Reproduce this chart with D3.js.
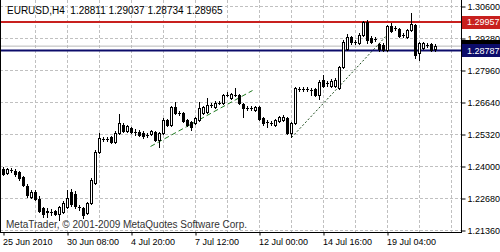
<!DOCTYPE html>
<html><head><meta charset="utf-8">
<script src="https://cdn.jsdelivr.net/npm/d3@7"></script>
<style>
html,body{margin:0;padding:0;background:#fff;overflow:hidden}
svg{display:block}
text{font-family:"Liberation Sans",Arial,sans-serif;font-size:9px}
</style></head><body>
<svg id="chart" width="500" height="252"></svg>
<script>
const symbolTitle = "EURUSD,H4  1.28811 1.29037 1.28734 1.28965";
const copyright = "MetaTrader, \u00A9 2001-2009 MetaQuotes Software Corp.";
const timeTickIndex = [0,16,32,48,64,80,96];
const timeTickLabels = ["25 Jun 2010","30 Jun 08:00","4 Jul 20:00","7 Jul 12:00","12 Jul 00:00","14 Jul 16:00","19 Jul 04:00"];
const priceTicks = [1.30600,1.29280,1.27960,1.26640,1.25320,1.24000,1.22680,1.21360];

const open = [1.23876,1.23711,1.23835,1.23794,1.23753,1.23546,1.23175,1.22721,1.22928,1.22639,
1.22268,1.22144,1.22103,1.22144,1.22020,1.22103,1.22309,1.22928,1.22845,1.22309,
1.22268,1.22061,1.22474,1.23299,1.24578,1.25114,1.25114,1.25196,1.24990,1.25361,
1.25691,1.25444,1.25568,1.25403,1.25403,1.25361,1.25279,1.25320,1.25403,1.25073,
1.25361,1.25898,1.25691,1.26434,1.26186,1.26186,1.25898,1.25815,1.25774,1.25898,
1.26186,1.26228,1.26516,1.26434,1.26599,1.26599,1.26929,1.26805,1.26929,1.26929,
1.26558,1.26393,1.26393,1.26310,1.26434,1.25980,1.25815,1.25774,1.25691,1.25856,
1.25898,1.25980,1.25361,1.25774,1.27176,1.27176,1.27176,1.27135,1.27176,1.26929,
1.27548,1.27424,1.27300,1.27300,1.27218,1.28084,1.28826,1.29321,1.29115,1.29074,
1.29404,1.29940,1.29280,1.29239,1.29033,1.28991,1.28785,1.29775,1.29693,1.29651,
1.29404,1.29321,1.29610,1.29816,1.28661,1.28868,1.28991,1.29033,1.28811];
const high = [1.23959,1.23918,1.23918,1.23876,1.23794,1.23588,1.23258,1.23010,1.23010,1.22763,
1.22309,1.22268,1.22226,1.22185,1.22350,1.22556,1.23010,1.23051,1.22969,1.22391,
1.22309,1.22515,1.23505,1.24660,1.25361,1.25196,1.25196,1.25238,1.25444,1.26145,
1.25774,1.25691,1.25609,1.25526,1.25485,1.25444,1.25361,1.25485,1.25444,1.25403,
1.25980,1.25939,1.26475,1.26640,1.26269,1.26228,1.25939,1.25856,1.26021,1.26640,
1.26475,1.26805,1.26599,1.26681,1.26681,1.26970,1.27053,1.27011,1.27218,1.26970,
1.26599,1.26475,1.26475,1.26475,1.26475,1.26021,1.25898,1.25856,1.25939,1.26063,
1.26104,1.26021,1.25815,1.27259,1.27259,1.27259,1.27259,1.27218,1.27218,1.27548,
1.27754,1.27506,1.27589,1.27630,1.28125,1.29198,1.29445,1.29363,1.29198,1.29486,
1.29981,1.30023,1.29363,1.29321,1.29074,1.29074,1.29816,1.29899,1.29775,1.29693,
1.29486,1.29651,1.30311,1.29858,1.29115,1.29115,1.29074,1.29074,1.29037];
const low = [1.23629,1.23670,1.23753,1.23588,1.23423,1.23175,1.22721,1.22680,1.22598,1.22103,
1.21896,1.21896,1.21979,1.21979,1.21773,1.22061,1.22268,1.22350,1.22268,1.22185,
1.21855,1.22020,1.22433,1.23258,1.24536,1.25031,1.25031,1.24949,1.24949,1.25320,
1.25403,1.25403,1.25361,1.25279,1.25238,1.25155,1.25196,1.25279,1.25031,1.24784,
1.25320,1.25650,1.25650,1.26145,1.26104,1.25815,1.25650,1.25485,1.25733,1.25856,
1.26145,1.26186,1.26434,1.26393,1.26558,1.26558,1.26888,1.26764,1.26888,1.26558,
1.26021,1.26310,1.26310,1.26269,1.25898,1.25691,1.25609,1.25691,1.25650,1.25815,
1.25856,1.25320,1.25196,1.25733,1.27094,1.27094,1.27094,1.26929,1.26888,1.26764,
1.27259,1.27300,1.27259,1.27259,1.27176,1.28043,1.28785,1.29033,1.29033,1.29033,
1.29363,1.29074,1.29074,1.29156,1.28744,1.28744,1.28744,1.29528,1.29610,1.29321,
1.29321,1.29280,1.29569,1.28455,1.28373,1.28826,1.28909,1.28744,1.28734];
const close = [1.23670,1.23876,1.23830,1.23670,1.23505,1.23216,1.22804,1.22928,1.22639,1.22144,
1.22020,1.22103,1.22100,1.22020,1.22309,1.22474,1.22680,1.22433,1.22350,1.22305,
1.21979,1.22474,1.23423,1.24578,1.25155,1.25110,1.25118,1.24990,1.25361,1.25774,
1.25444,1.25650,1.25403,1.25398,1.25279,1.25238,1.25283,1.25444,1.25073,1.25361,
1.25898,1.25691,1.26434,1.26186,1.26190,1.25856,1.25691,1.25609,1.25980,1.26393,
1.26434,1.26516,1.26520,1.26599,1.26595,1.26929,1.26925,1.26970,1.26933,1.26599,
1.26393,1.26390,1.26397,1.26434,1.25939,1.25774,1.25810,1.25770,1.25898,1.26021,
1.26021,1.25361,1.25774,1.27218,1.27180,1.27172,1.27180,1.27130,1.26929,1.27465,
1.27300,1.27420,1.27506,1.27548,1.28084,1.29115,1.29321,1.29115,1.29110,1.29404,
1.29940,1.29198,1.29115,1.29235,1.28826,1.28785,1.29775,1.29569,1.29690,1.29363,
1.29400,1.29610,1.29858,1.28579,1.29074,1.29074,1.28995,1.28785,1.28965];

const levelPrices = [1.29957, 1.28787];
const bidPrice = 1.28965;
const trendFromIndex = [36.75, 72];
const trendFromPrice = [1.24825, 1.25196];
const trendToIndex = [62.25, 96.25];
const trendToPrice = [1.27135, 1.29486];

const svg = d3.select("#chart");
const plotRight = 461.5, plotBottom = 232.5;
const x = d3.scaleLinear().domain([0, 108]).range([3.5, 435.5]);
const y = d3.scaleLinear().domain([1.21360, 1.30600]).range([230.5, 6.5]);
const gridColor = "#c0c0c0";

// grid
const gridIdx = d3.range(8, 113, 8);
svg.append("g").selectAll("line").data(gridIdx).join("line")
  .attr("x1", d => x(d)).attr("x2", d => x(d)).attr("y1", 0).attr("y2", plotBottom)
  .attr("stroke", gridColor).attr("stroke-dasharray", "3,2");
svg.append("g").selectAll("line").data(priceTicks).join("line")
  .attr("x1", 0).attr("x2", plotRight).attr("y1", d => y(d)).attr("y2", d => y(d))
  .attr("stroke", gridColor).attr("stroke-dasharray", "3,2");

// bid line
svg.append("line").attr("x1", 0).attr("x2", plotRight)
  .attr("y1", y(bidPrice)).attr("y2", y(bidPrice)).attr("stroke", "#b8b8b8");

// trend lines
const trendStyles = [{c:"#1f7a1f", d:"5,3"}, {c:"#1e4d1e", d:"2,2"}];
trendFromIndex.forEach((t, k) => {
  svg.append("line")
    .attr("x1", x(t)).attr("y1", y(trendFromPrice[k]))
    .attr("x2", x(trendToIndex[k])).attr("y2", y(trendToPrice[k]))
    .attr("stroke", trendStyles[k].c).attr("stroke-width", 1)
    .attr("stroke-dasharray", trendStyles[k].d);
});

// horizontal level lines
const levelColors = ["#c8201e", "#0c0c6a"];
levelPrices.forEach((p, k) => {
  svg.append("line").attr("x1", 0).attr("x2", plotRight)
    .attr("y1", y(p)).attr("y2", y(p))
    .attr("stroke", levelColors[k]).attr("stroke-width", 2);
});

// candles
const gC = svg.append("g");
d3.range(open.length).forEach(i => {
  const cx = x(i);
  const rH = Math.floor(y(high[i])), rL = Math.floor(y(low[i]));
  gC.append("rect").attr("x", cx - 0.5).attr("width", 1).attr("y", rH).attr("height", rL - rH + 1).attr("fill", "#000");
  const rO = Math.floor(y(open[i])), rCl = Math.floor(y(close[i]));
  const top = Math.min(rO, rCl), bot = Math.max(rO, rCl);
  if (bot - top < 1) {
    gC.append("rect").attr("x", cx - 1.5).attr("width", 3).attr("y", top).attr("height", 1).attr("fill", "#000");
  } else if (close[i] > open[i]) {
    gC.append("rect").attr("x", cx - 1).attr("width", 2).attr("y", top + 0.5).attr("height", bot - top)
      .attr("fill", "#fff").attr("stroke", "#000").attr("stroke-width", 1);
  } else {
    gC.append("rect").attr("x", cx - 1.5).attr("width", 3).attr("y", top).attr("height", bot - top + 1).attr("fill", "#000");
  }
});

// frame
svg.append("line").attr("x1", 0.5).attr("x2", 0.5).attr("y1", 0).attr("y2", plotBottom).attr("stroke", "#000");
svg.append("line").attr("x1", plotRight).attr("x2", plotRight).attr("y1", 0).attr("y2", plotBottom + 0.5).attr("stroke", "#000");
svg.append("line").attr("x1", 0).attr("x2", plotRight).attr("y1", plotBottom).attr("y2", plotBottom).attr("stroke", "#000");

// right price axis
const yAxis = d3.axisRight(y).tickValues(priceTicks).tickFormat(d3.format(".5f")).tickSize(4).tickPadding(2);
const ga = svg.append("g").attr("transform", `translate(${plotRight},0)`).call(yAxis);
ga.select(".domain").remove();
ga.selectAll("text").attr("font-family", "Liberation Sans, Arial, sans-serif").attr("font-size", 9).attr("fill", "#000");

// bottom time axis
const xAxis = d3.axisBottom(x).tickValues(timeTickIndex).tickFormat((d, k) => timeTickLabels[k]).tickSize(3).tickPadding(3);
const gx = svg.append("g").attr("transform", `translate(0,${plotBottom})`).call(xAxis);
gx.select(".domain").remove();
gx.selectAll("text").attr("text-anchor", "start").attr("dx", -1)
  .attr("font-family", "Liberation Sans, Arial, sans-serif").attr("font-size", 9).attr("fill", "#000");

// price boxes (bid box is covered by the level box, as in the terminal)
const boxes = [{p: bidPrice, c: "#000", label: false}, {p: levelPrices[1], c: levelColors[1], label: true}, {p: levelPrices[0], c: levelColors[0], label: true}];
boxes.forEach(b => {
  const cy = y(b.p);
  svg.append("rect").attr("x", 462).attr("y", Math.round(cy - 6.5)).attr("width", 38).attr("height", 13).attr("fill", b.c);
  if (b.label) svg.append("text").attr("x", 467).attr("y", cy + 3.3).attr("fill", "#fff").text(d3.format(".5f")(b.p));
});

// texts
svg.append("text").attr("x", 7).attr("y", 14).attr("xml:space", "preserve").style("white-space", "pre")
  .style("font-size", "10px").attr("fill", "#000").text(symbolTitle);
svg.append("text").attr("x", 6).attr("y", 228).style("font-size", "10px").attr("fill", "#333").text(copyright);
</script>
</body></html>
